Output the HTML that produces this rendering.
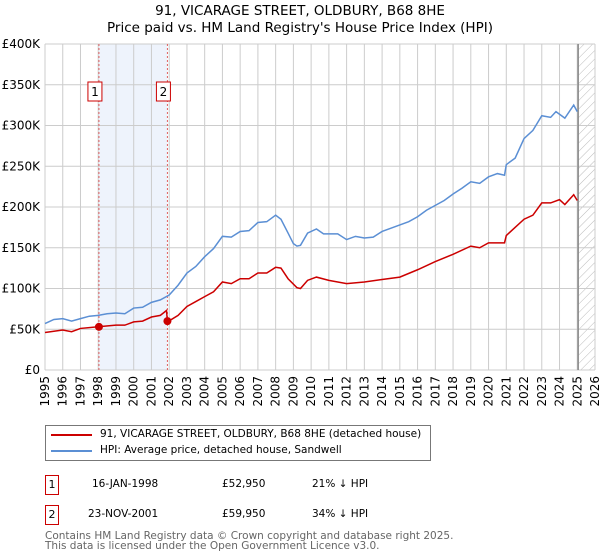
<!DOCTYPE html>
<html><head><meta charset="utf-8"><style>
body{margin:0;background:#fff;font-family:"DejaVu Sans","Liberation Sans",sans-serif;}
#wrap{position:relative;width:600px;height:560px;overflow:hidden}
.t{position:absolute;font-size:10.5px;color:#000;white-space:nowrap}
</style></head><body><div id="wrap">
<svg id="chart" width="600" height="420" style="position:absolute;left:0;top:0">
<defs><pattern id="hatch" width="6" height="6" patternUnits="userSpaceOnUse" patternTransform="rotate(45)"><line x1="0" y1="0" x2="0" y2="6" stroke="#bbb" stroke-width="1"/></pattern></defs>
<text x="300" y="15" text-anchor="middle" font-size="13.5">91, VICARAGE STREET, OLDBURY, B68 8HE</text>
<text x="300" y="32" text-anchor="middle" font-size="13.5">Price paid vs. HM Land Registry's House Price Index (HPI)</text>
<g id="g"></g>
</svg>
<div style="position:absolute;left:45px;top:425px;width:386px;height:36px;border:1px solid #777;box-sizing:border-box">
<div><div style="position:absolute;left:5px;top:8px;width:41px;height:2px;background:#cc0000"></div><span class="t" style="left:54px;top:2px">91, VICARAGE STREET, OLDBURY, B68 8HE (detached house)</span></div>
<div><div style="position:absolute;left:5px;top:24px;width:41px;height:2px;background:#5b8fd4"></div><span class="t" style="left:54px;top:18px">HPI: Average price, detached house, Sandwell</span></div>
</div>
<div>
<div style="position:absolute;left:45px;top:475px;width:14px;height:20px;border:1px solid #cc0000;box-sizing:border-box;font-size:11px;text-align:center;line-height:18px">1</div>
<span class="t" style="left:92px;top:478px">16-JAN-1998</span><span class="t" style="left:222px;top:478px">£52,950</span><span class="t" style="left:312px;top:478px">21% ↓ HPI</span></div>
<div>
<div style="position:absolute;left:45px;top:505px;width:14px;height:20px;border:1px solid #cc0000;box-sizing:border-box;font-size:11px;text-align:center;line-height:18px">2</div>
<span class="t" style="left:88px;top:508px">23-NOV-2001</span><span class="t" style="left:222px;top:508px">£59,950</span><span class="t" style="left:312px;top:508px">34% ↓ HPI</span></div>
<div style="position:absolute;left:45px;top:531px;font-size:10.5px;color:#666;line-height:10px">Contains HM Land Registry data © Crown copyright and database right 2025.<br>This data is licensed under the Open Government Licence v3.0.</div>
</div>
<script>
const hpiYears=[1995,1995.5,1996,1996.5,1997,1997.5,1998,1998.5,1999,1999.5,2000,2000.5,2001,2001.5,2002,2002.5,2003,2003.5,2004,2004.5,2005,2005.5,2006,2006.5,2007,2007.5,2008,2008.3,2008.7,2009,2009.2,2009.4,2009.8,2010.3,2010.7,2011,2011.5,2012,2012.5,2013,2013.5,2014,2014.5,2015,2015.5,2016,2016.5,2017,2017.5,2018,2018.5,2019,2019.5,2020,2020.5,2020.9,2021,2021.5,2022,2022.5,2023,2023.5,2023.8,2024.3,2024.8,2025];
const hpiValues=[57,62,63,60,63,66,67,69,70,69,76,77,83,86,92,104,119,127,139,149,164,163,170,171,181,182,190,185,168,155,152,153,168,173,167,167,167,160,164,162,163,170,174,178,182,188,196,202,208,216,223,231,229,237,241,239,252,260,284,294,312,310,317,309,325,317];
const priceYears=[1995,1996,1996.5,1997,1998,1999,1999.5,2000,2000.5,2001,2001.5,2001.85,2001.9,2002.5,2003,2003.5,2004,2004.5,2005,2005.5,2006,2006.5,2007,2007.5,2008,2008.3,2008.7,2009.2,2009.4,2009.8,2010.3,2011,2012,2013,2014,2015,2016,2017,2018,2019,2019.5,2020,2020.9,2021,2022,2022.5,2023,2023.5,2024,2024.3,2024.8,2025];
const priceValues=[46,49,47,51,53,55,55,59,60,65,67,73,59,67,78,84,90,96,108,106,112,112,119,119,126,125,112,101,100,110,114,110,106,108,111,114,123,133,142,152,150,156,156,165,185,190,205,205,209,203,215,208];
const saleYears=[1998.04,2001.9];
const saleValues=[52.95,59.95];
const saleLabels=["1","2"];
const yTicks=[0,50,100,150,200,250,300,350,400];
const yTickLabels=["£0","£50K","£100K","£150K","£200K","£250K","£300K","£350K","£400K"];
const xTicks=[1995,1996,1997,1998,1999,2000,2001,2002,2003,2004,2005,2006,2007,2008,2009,2010,2011,2012,2013,2014,2015,2016,2017,2018,2019,2020,2021,2022,2023,2024,2025,2026];
const X0=45,X1=595,Y0=370,Y1=44;
const xs=y=>X0+(y-1995)/31*(X1-X0);
const ys=v=>Y0-v/400*(Y0-Y1);
const g=document.getElementById('g');const NS='http://www.w3.org/2000/svg';
function mk(t,a,p){const e=document.createElementNS(NS,t);for(const k in a)e.setAttribute(k,a[k]);(p||g).appendChild(e);return e;}
let e;
e=mk('rect',{x:xs(saleYears[0]),y:Y1,width:xs(saleYears[1])-xs(saleYears[0]),height:Y0-Y1,fill:'#eef3fc'});


e=mk('rect',{x:xs(2025.05),y:Y1,width:X1-xs(2025.05),height:Y0-Y1,fill:'url(#hatch)'});


xTicks.forEach(t=>{e=mk('line',{x1:xs(t),x2:xs(t),y1:Y1,y2:Y0,stroke:'#ccc'});


e=mk('text',{x:0,y:0,'font-size':12,'text-anchor':'end',transform:`translate(${xs(t)+4},${Y0+6}) rotate(-90)`});e.textContent=t;

});
yTicks.forEach((t,i)=>{e=mk('line',{x1:X0,x2:X1,y1:ys(t),y2:ys(t),stroke:'#ccc'});


e=mk('text',{x:40,y:ys(t)+4,'font-size':12,'text-anchor':'end'});e.textContent=yTickLabels[i];

});
e=mk('line',{x1:xs(2025.05),x2:xs(2025.05),y1:Y1,y2:Y0,stroke:'#888','stroke-width':1.5});


saleYears.forEach((s,i)=>{e=mk('line',{x1:xs(s),x2:xs(s),y1:Y1,y2:Y0,stroke:'#e06060','stroke-dasharray':'2,2'});


e=mk('rect',{x:xs(s)-11,y:82,width:14,height:19,fill:'#fff',stroke:'#cc0000'});


e=mk('text',{x:xs(s)-4,y:96,'font-size':12,'text-anchor':'middle'});e.textContent=saleLabels[i];

});
e=mk('polyline',{points:hpiYears.map((y,i)=>xs(y)+','+ys(hpiValues[i])).join(' '),fill:'none',stroke:'#5b8fd4','stroke-width':1.5});


e=mk('polyline',{points:priceYears.map((y,i)=>xs(y)+','+ys(priceValues[i])).join(' '),fill:'none',stroke:'#cc0000','stroke-width':1.5});


saleYears.forEach((s,i)=>{e=mk('circle',{cx:xs(s),cy:ys(saleValues[i]),r:4,fill:'#cc0000'});

});
</script>
</body></html>
